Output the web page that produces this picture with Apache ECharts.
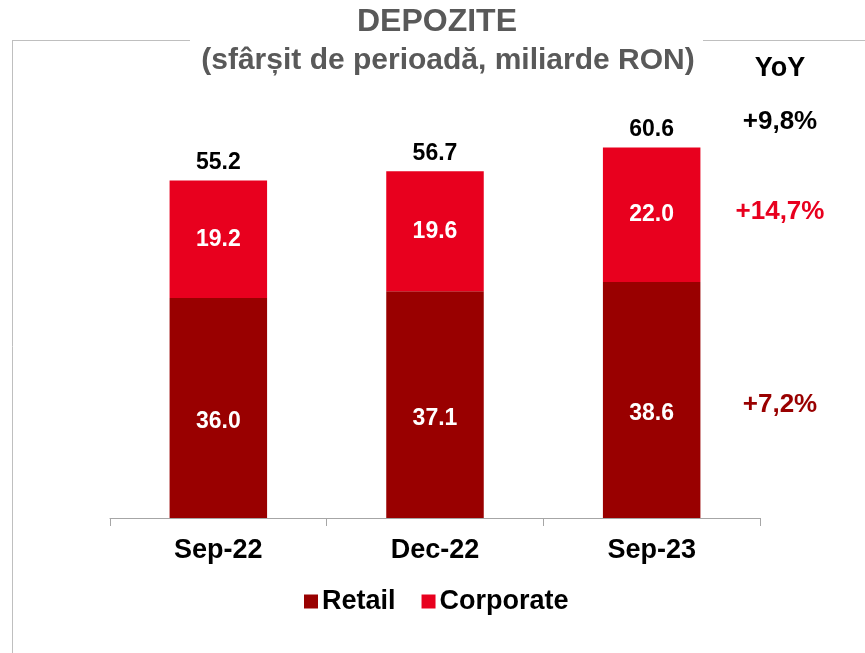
<!DOCTYPE html>
<html>
<head>
<meta charset="utf-8">
<script src="https://cdn.jsdelivr.net/npm/echarts@6/dist/echarts.min.js"></script>
<style>
  html, body { margin: 0; padding: 0; background: #fff; }
  #chart { width: 865px; height: 653px; }
</style>
</head>
<body>
<div id="chart"></div>
<script>
// date
const categories = ["Sep-22", "Dec-22", "Sep-23"];
const retail = [36.0, 37.1, 38.6];
const corporate = [19.2, 19.6, 22.0];
const totals = [55.2, 56.7, 60.6];
const yoyTotal = "+9,8%";
const yoyCorporate = "+14,7%";
const yoyRetail = "+7,2%";

const FONT = "Liberation Sans, Arial, sans-serif";
const RETAIL_COLOR = "#990000";
const CORP_COLOR = "#E8001E";

const chart = echarts.init(document.getElementById("chart"));

const option = {
  animation: false,
  textStyle: { fontFamily: FONT },
  grid: { left: 110, right: 105, top: 90, bottom: 135 },
  legend: {
    bottom: 33,
    left: 299,
    itemWidth: 14,
    itemHeight: 14,
    itemGap: 26,
    icon: "rect",
    textStyle: { fontSize: 27, fontWeight: "bold", color: "#000", fontFamily: FONT, padding: [0, 0, 0, -1] },
    data: ["Retail", "Corporate"],
  },
  xAxis: {
    type: "category",
    data: categories,
    axisLine: { lineStyle: { color: "#A6A6A6", width: 1 } },
    axisTick: { show: true, length: 8, lineStyle: { color: "#A6A6A6" } },
    axisLabel: { fontSize: 27, fontWeight: "bold", color: "#000", margin: 19 },
  },
  yAxis: {
    type: "value",
    min: 0,
    max: 70,
    show: false,
    splitLine: { show: false },
  },
  series: [
    {
      name: "Retail",
      type: "bar",
      stack: "total",
      barWidth: "45%",
      data: retail,
      itemStyle: { color: RETAIL_COLOR },
      label: {
        show: true,
        position: "inside",
        offset: [0, 14],
        color: "#fff",
        fontSize: 23,
        fontWeight: "bold",
        formatter: (p) => p.value.toFixed(1),
      },
    },
    {
      name: "Corporate",
      type: "bar",
      stack: "total",
      barWidth: "45%",
      data: corporate,
      itemStyle: { color: CORP_COLOR },
      label: {
        show: true,
        position: "inside",
        color: "#fff",
        fontSize: 23,
        fontWeight: "bold",
        formatter: (p) => p.value.toFixed(1),
      },
    },
    {
      // totaluri deasupra barelor
      name: "Total",
      type: "scatter",
      data: totals,
      symbolSize: 0,
      itemStyle: { color: "#000", opacity: 1 },
      label: {
        show: true,
        position: "top",
        distance: 6,
        color: "#000",
        fontSize: 23,
        fontWeight: "bold",
        formatter: (p) => p.value.toFixed(1),
      },
    },
  ],
};

chart.setOption(option);

// pozitii YoY aliniate cu segmentele din Sep-23
const last = categories.length - 1;
const yTot = chart.convertToPixel({ seriesIndex: 0 }, [last, totals[last]])[1];
const yCorp = chart.convertToPixel({ seriesIndex: 0 }, [last, retail[last] + corporate[last] / 2])[1];
const yRet = chart.convertToPixel({ seriesIndex: 0 }, [last, retail[last] / 2])[1];
const yoyX = 780;

chart.setOption({
  graphic: [
    // chenar gri
    { type: "line", shape: { x1: 12, y1: 40.5, x2: 190, y2: 40.5 }, style: { stroke: "#BFBFBF", lineWidth: 1 } },
    { type: "line", shape: { x1: 703, y1: 40.5, x2: 865, y2: 40.5 }, style: { stroke: "#BFBFBF", lineWidth: 1 } },
    { type: "line", shape: { x1: 12.5, y1: 40, x2: 12.5, y2: 653 }, style: { stroke: "#BFBFBF", lineWidth: 1 } },
    {
      type: "text", x: 437, y: 22,
      style: { text: "DEPOZITE", fill: "#595959", font: "bold 32px " + FONT, textAlign: "center", textVerticalAlign: "middle" },
    },
    {
      type: "text", x: 448, y: 61,
      style: { text: "(sfârșit de perioadă, miliarde RON)", fill: "#595959", font: "bold 30px " + FONT, textAlign: "center", textVerticalAlign: "middle" },
    },
    {
      type: "text", x: yoyX, y: 69,
      style: { text: "YoY", fill: "#000", font: "bold 27px " + FONT, textAlign: "center", textVerticalAlign: "middle" },
    },
    {
      type: "text", x: yoyX, y: yTot - 26,
      style: { text: yoyTotal, fill: "#000", font: "bold 26px " + FONT, textAlign: "center", textVerticalAlign: "middle" },
    },
    {
      type: "text", x: yoyX, y: yCorp - 3,
      style: { text: yoyCorporate, fill: CORP_COLOR, font: "bold 26px " + FONT, textAlign: "center", textVerticalAlign: "middle" },
    },
    {
      type: "text", x: yoyX, y: yRet + 5,
      style: { text: yoyRetail, fill: RETAIL_COLOR, font: "bold 26px " + FONT, textAlign: "center", textVerticalAlign: "middle" },
    },
  ],
});
</script>
</body>
</html>
